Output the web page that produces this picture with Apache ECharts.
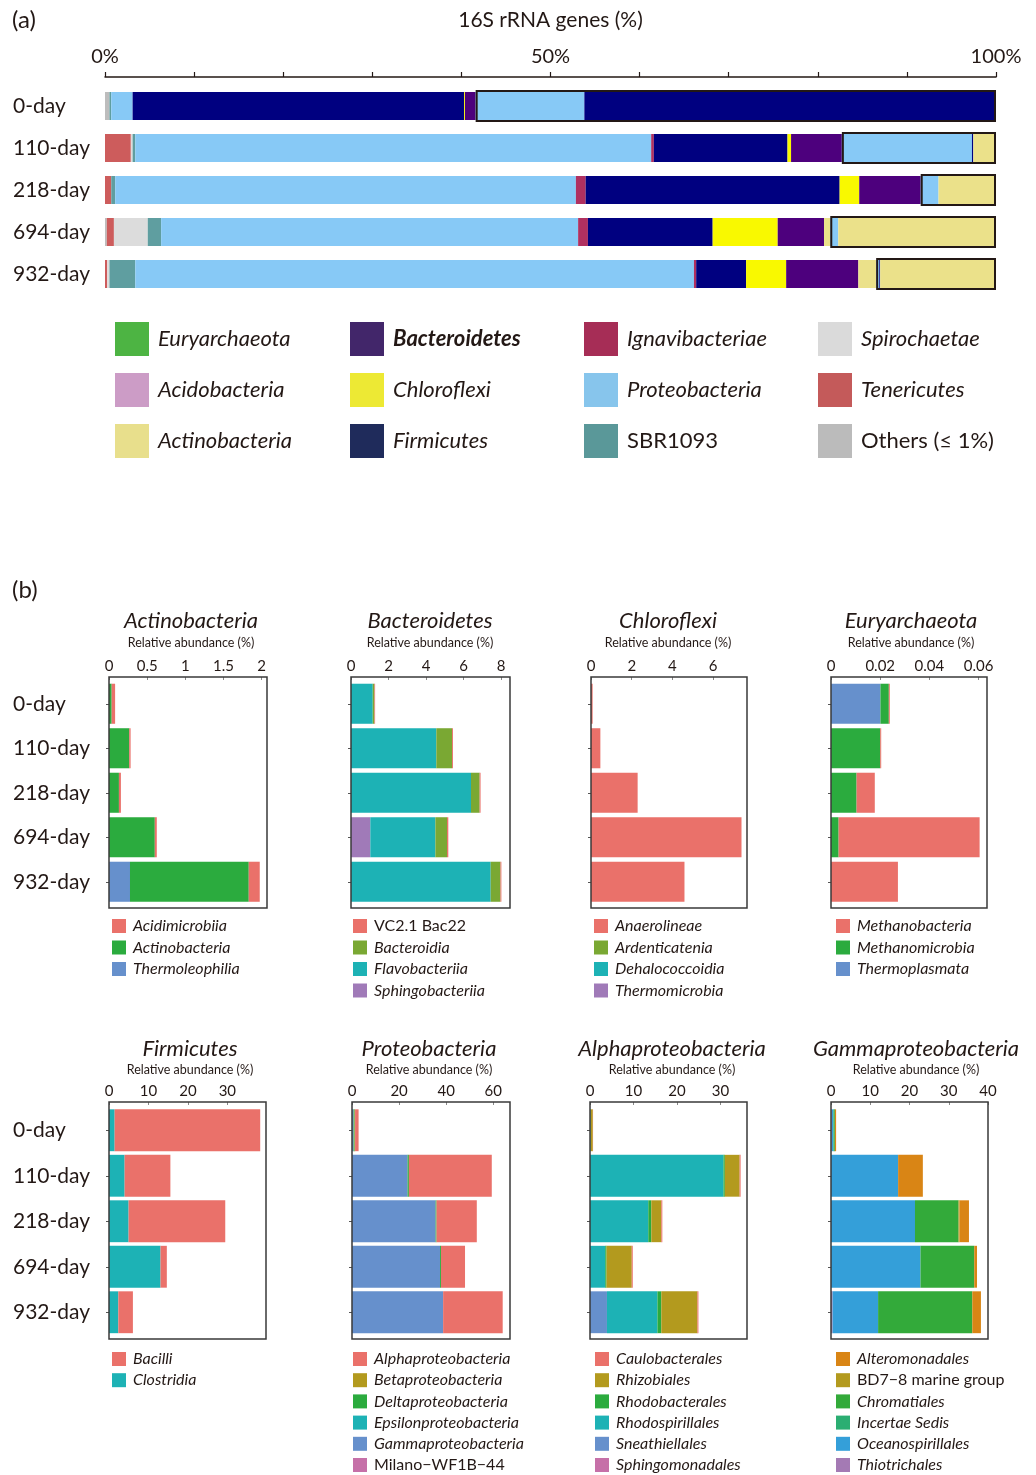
<!DOCTYPE html>
<html>
<head>
<meta charset="utf-8">
<script src="https://cdn.jsdelivr.net/npm/echarts@6/dist/echarts.min.js"></script>
<style>
  html, body { margin: 0; padding: 0; background: #fff; }
  #chart { width: 1036px; height: 1475px; }
</style>
</head>
<body>
<div id="chart"></div>
<script>
// ---------- shared ----------
const FONT = 'Lato, "Noto Sans", sans-serif';
const INK = '#231815';
const days = ['0-day', '110-day', '218-day', '694-day', '932-day'];

// ---------- (a) phylum composition, 16S rRNA genes (%) ----------
const others          = [0.5, 0,    0,    0.2,  0];
const tenericutes     = [0,   2.9,  0.7,  0.8,  0.25];
const spirochaetae    = [0,   0.2,  0,    3.8,  0.25];
const sbr1093         = [0.2, 0.3,  0.45, 1.5,  2.9];
const euryarchaeota   = [0,   0,    0,    0,    0];
const acidobacteria   = [0,   0,    0,    0,    0];
const proteobacteria  = [2.4, 57.9, 51.7, 46.8, 62.7];
const ignavibacteriae = [0,   0.3,  1.1,  1.1,  0.25];
const firmicutes      = [37.2, 15.0, 28.5, 14.0, 5.6];
const chloroflexi     = [0.1, 0.4,  2.2,  7.3,  4.5];
const bacteroidetes   = [1.2, 5.7,  6.9,  5.2,  8.1];
const actinobacteria  = [0,   0,    0,    0.7,  2.0];
// framed tail of each bar
const proteobacteriaTail = [12.2, 14.6, 2.0, 0.9, 0.35];
const firmicutesTail     = [46.2, 0.15, 0,   0,   0.1];
const actinobacteriaTail = [0,    2.55, 6.45, 17.7, 13.0];
const percentTicks = [0, 50, 100];

// ---------- (b) class / order breakdown, relative abundance (%) ----------
const actThermoleophilia = [0, 0, 0, 0, 0.275];
const actActinobacteria  = [0.035, 0.265, 0.13, 0.60, 1.556];
const actAcidimicrobiia  = [0.045, 0.018, 0.026, 0.026, 0.144];
const actTicks = [0, 0.5, 1, 1.5, 2];

const bacSphingobacteriia = [0, 0, 0, 1.03, 0];
const bacFlavobacteriia   = [1.16, 4.55, 6.4, 3.47, 7.45];
const bacBacteroidia      = [0.09, 0.84, 0.46, 0.62, 0.52];
const bacVC21Bac22        = [0.035, 0.05, 0.05, 0.07, 0.05];
const bacTicks = [0, 2, 4, 6, 8];

const chlThermomicrobia   = [0, 0, 0, 0, 0];
const chlDehalococcoidia  = [0, 0, 0, 0, 0];
const chlArdenticatenia   = [0, 0, 0, 0, 0];
const chlAnaerolineae     = [0.08, 0.46, 2.29, 7.39, 4.59];
const chlTicks = [0, 2, 4, 6];

const euryThermoplasmata  = [0.0201, 0, 0, 0, 0];
const euryMethanomicrobia = [0.0034, 0.020, 0.0104, 0.0031, 0];
const euryMethanobacteria = [0.0004, 0.0004, 0.0074, 0.0573, 0.0272];
const euryTicks = [0, 0.02, 0.04, 0.06];

const firClostridia = [1.43, 3.96, 4.97, 13.06, 2.36];
const firBacilli    = [36.9, 11.6, 24.5, 1.6, 3.7];
const firTicks = [0, 10, 20, 30];

const proMilano = [0, 0, 0, 0, 0];
const proGamma  = [0.7, 23.6, 35.5, 37.4, 38.7];
const proEpsilon = [0, 0, 0, 0, 0];
const proDelta  = [0.4, 0.56, 0.4, 0.4, 0];
const proBeta   = [0.2, 0, 0, 0, 0];
const proAlpha  = [1.5, 35.2, 17.1, 10.2, 25.3];
const proTicks = [0, 20, 40, 60];

const alpSphingomonadales = [0, 0, 0, 0, 0];
const alpSneathiellales   = [0, 0, 0, 0, 3.9];
const alpRhodospirillales = [0.15, 30.7, 13.4, 3.5, 11.6];
const alpRhodobacterales  = [0, 0.3, 0.7, 0.3, 0.9];
const alpRhizobiales      = [0.5, 3.4, 2.3, 5.8, 8.3];
const alpCaulobacterales  = [0.05, 0.23, 0.23, 0.23, 0.23];
const alpTicks = [0, 10, 20, 30];

const gamThiotrichales     = [0.2, 0, 0, 0, 0.4];
const gamOceanospirillales = [0.4, 17.1, 21.4, 22.8, 11.6];
const gamIncertaeSedis     = [0.2, 0, 0, 0, 0];
const gamChromatiales      = [0.2, 0, 11.1, 13.7, 24.0];
const gamBD78              = [0, 0, 0.25, 0, 0];
const gamAlteromonadales   = [0.3, 6.3, 2.4, 0.7, 2.2];
const gamTicks = [0, 10, 20, 30, 40];

// ---------- colours ----------
const PA = {
  others: '#bdbdbd', tenericutes: '#cd5c5c', spirochaetae: '#dcdcdc', sbr: '#5f9ea0',
  eury: '#3cb44b', acido: '#cc99c9', proteo: '#87c9f6', ignav: '#b03060',
  firm: '#000080', chloro: '#f9f900', bact: '#4d007d', actino: '#ebe18a'
};
const PA_KEY = {
  'Euryarchaeota': '#4db443', 'Acidobacteria': '#cc9cc6', 'Actinobacteria': '#e8df8c',
  'Bacteroidetes': '#42266a', 'Chloroflexi': '#ede934', 'Firmicutes': '#1f2b5b',
  'Ignavibacteriae': '#a62d56', 'Proteobacteria': '#87c5ec', 'SBR1093': '#5a9899',
  'Spirochaetae': '#dadada', 'Tenericutes': '#c45a5a', 'Others (≤ 1%)': '#bbbbbb'
};
const PB = {
  red: '#ea716a', green: '#2bab3e', blue: '#6690cc', yg: '#7aa833', teal: '#1db2b5',
  purple: '#a07ab8', olive: '#b39a1e', pink: '#c670a8', orange: '#d98515',
  incertae: '#2bae72', ocean: '#349fd9', thio: '#a47ab4', chrom: '#33aa3a'
};

// ---------- option assembly ----------
const grid = [], xAxis = [], yAxis = [], series = [], legend = [], graphic = [];

// panel (a)
grid.push({ left: 105, top: 85, width: 891, height: 210 });
xAxis.push({
  type: 'value', gridIndex: 0, position: 'top', offset: 8, min: 0, max: 100, interval: 10,
  name: '16S rRNA genes (%)', nameLocation: 'middle', nameGap: 46,
  nameTextStyle: { fontFamily: FONT, fontSize: 21, color: INK },
  axisLine: { show: true, lineStyle: { color: INK, width: 1.5 } },
  axisTick: { show: true, length: 5, lineStyle: { color: INK, width: 1.2 } },
  axisLabel: { customValues: percentTicks, formatter: '{value}%', margin: 10,
               fontFamily: FONT, fontSize: 20, color: INK },
  splitLine: { show: false }
});
const catAxisA = {
  type: 'category', gridIndex: 0, data: days, inverse: true,
  axisLine: { show: false }, axisTick: { show: false }
};
yAxis.push(Object.assign({}, catAxisA, {
  axisLabel: { align: 'left', margin: 92, fontFamily: FONT, fontSize: 21, color: INK }
}));
yAxis.push(Object.assign({}, catAxisA, { axisLabel: { show: false } }));

const mainParts = [
  ['Others (≤ 1%)', others, PA.others], ['Tenericutes', tenericutes, PA.tenericutes],
  ['Spirochaetae', spirochaetae, PA.spirochaetae], ['SBR1093', sbr1093, PA.sbr],
  ['Euryarchaeota', euryarchaeota, PA.eury], ['Acidobacteria', acidobacteria, PA.acido],
  ['Proteobacteria', proteobacteria, PA.proteo], ['Ignavibacteriae', ignavibacteriae, PA.ignav],
  ['Firmicutes', firmicutes, PA.firm], ['Chloroflexi', chloroflexi, PA.chloro],
  ['Bacteroidetes', bacteroidetes, PA.bact], ['Actinobacteria', actinobacteria, PA.actino]
];
const tailParts = [
  ['Proteobacteria', proteobacteriaTail, PA.proteo],
  ['Firmicutes', firmicutesTail, PA.firm],
  ['Actinobacteria', actinobacteriaTail, PA.actino]
];
mainParts.concat(tailParts).forEach(([name, data, color]) => {
  series.push({
    type: 'bar', name, data, stack: 'phyla', xAxisIndex: 0, yAxisIndex: 0,
    barWidth: 28, itemStyle: { color }, silent: true
  });
});
// frame around the tail segments
const tailStart = days.map((_, i) => mainParts.reduce((s, p) => s + p[1][i], 0));
const tailWidth = days.map((_, i) => tailParts.reduce((s, p) => s + p[1][i], 0));
series.push({ type: 'bar', name: 'tail-offset', data: tailStart, stack: 'frame', xAxisIndex: 0, yAxisIndex: 1,
  barWidth: 32, itemStyle: { color: 'rgba(0,0,0,0)' }, silent: true });
series.push({ type: 'bar', name: 'tail-frame', data: tailWidth, stack: 'frame', xAxisIndex: 0, yAxisIndex: 1,
  barWidth: 32, itemStyle: { color: 'rgba(0,0,0,0)', borderColor: INK, borderWidth: 2 }, silent: true });

const keyColumns = [
  [115, ['Euryarchaeota', 'Acidobacteria', 'Actinobacteria']],
  [350, ['Bacteroidetes', 'Chloroflexi', 'Firmicutes']],
  [584, ['Ignavibacteriae', 'Proteobacteria', 'SBR1093']],
  [818, ['Spirochaetae', 'Tenericutes', 'Others (≤ 1%)']]
];
keyColumns.forEach(([left, names]) => {
  legend.push({
    left, top: 322, height: 200, orient: 'vertical', padding: 0, selectedMode: false,
    itemWidth: 34, itemHeight: 34, itemGap: 17, icon: 'rect',
    textStyle: { fontFamily: FONT, fontSize: 22, color: INK, fontStyle: 'italic', padding: [0, 0, 0, 4] },
    data: names.map(n => ({
      name: n, icon: 'rect', itemStyle: { color: PA_KEY[n], borderWidth: 0 },
      textStyle: n === 'Bacteroidetes' ? { fontWeight: 'bold' }
               : (n === 'SBR1093' || n === 'Others (≤ 1%)') ? { fontStyle: 'normal' } : {}
    }))
  });
});

// panel (b)
const bPanels = [
  { title: 'Actinobacteria', tx: 191, row: 0, box: [109, 158], max: 2.07, ticks: actTicks, labels: true, key: [112, 918],
    parts: [['Thermoleophilia', actThermoleophilia, PB.blue], ['Actinobacteria', actActinobacteria, PB.green],
            ['Acidimicrobiia', actAcidimicrobiia, PB.red]],
    order: ['Acidimicrobiia', 'Actinobacteria', 'Thermoleophilia'] },
  { title: 'Bacteroidetes', tx: 430, row: 0, box: [351, 159], max: 8.48, ticks: bacTicks, key: [353, 918],
    parts: [['Sphingobacteriia', bacSphingobacteriia, PB.purple], ['Flavobacteriia', bacFlavobacteriia, PB.teal],
            ['Bacteroidia', bacBacteroidia, PB.yg], ['VC2.1 Bac22', bacVC21Bac22, PB.red]],
    order: ['VC2.1 Bac22', 'Bacteroidia', 'Flavobacteriia', 'Sphingobacteriia'], plain: ['VC2.1 Bac22'] },
  { title: 'Chloroflexi', tx: 668, row: 0, box: [591, 156], max: 7.66, ticks: chlTicks, key: [594, 918],
    parts: [['Thermomicrobia', chlThermomicrobia, PB.purple], ['Dehalococcoidia', chlDehalococcoidia, PB.teal],
            ['Ardenticatenia', chlArdenticatenia, PB.yg], ['Anaerolineae', chlAnaerolineae, PB.red]],
    order: ['Anaerolineae', 'Ardenticatenia', 'Dehalococcoidia', 'Thermomicrobia'] },
  { title: 'Euryarchaeota', tx: 911, row: 0, box: [831, 156], max: 0.0634, ticks: euryTicks, key: [836, 918],
    parts: [['Thermoplasmata', euryThermoplasmata, PB.blue], ['Methanomicrobia', euryMethanomicrobia, PB.green],
            ['Methanobacteria', euryMethanobacteria, PB.red]],
    order: ['Methanobacteria', 'Methanomicrobia', 'Thermoplasmata'] },
  { title: 'Firmicutes', tx: 190, row: 1, box: [109, 157], max: 39.8, ticks: firTicks, labels: true, key: [112, 1351],
    parts: [['Clostridia', firClostridia, PB.teal], ['Bacilli', firBacilli, PB.red]],
    order: ['Bacilli', 'Clostridia'] },
  { title: 'Proteobacteria', tx: 429, row: 1, box: [352, 158], max: 67.1, ticks: proTicks, key: [353, 1351],
    parts: [['Milano−WF1B−44', proMilano, PB.pink], ['Gammaproteobacteria', proGamma, PB.blue],
            ['Epsilonproteobacteria', proEpsilon, PB.teal], ['Deltaproteobacteria', proDelta, PB.green],
            ['Betaproteobacteria', proBeta, PB.olive], ['Alphaproteobacteria', proAlpha, PB.red]],
    order: ['Alphaproteobacteria', 'Betaproteobacteria', 'Deltaproteobacteria', 'Epsilonproteobacteria',
            'Gammaproteobacteria', 'Milano−WF1B−44'], plain: ['Milano−WF1B−44'] },
  { title: 'Alphaproteobacteria', tx: 672, row: 1, box: [590, 157], max: 36.1, ticks: alpTicks, key: [595, 1351],
    parts: [['Sphingomonadales', alpSphingomonadales, PB.pink], ['Sneathiellales', alpSneathiellales, PB.blue],
            ['Rhodospirillales', alpRhodospirillales, PB.teal], ['Rhodobacterales', alpRhodobacterales, PB.green],
            ['Rhizobiales', alpRhizobiales, PB.olive], ['Caulobacterales', alpCaulobacterales, PB.red]],
    order: ['Caulobacterales', 'Rhizobiales', 'Rhodobacterales', 'Rhodospirillales', 'Sneathiellales', 'Sphingomonadales'] },
  { title: 'Gammaproteobacteria', tx: 916, row: 1, box: [831, 157], max: 40, ticks: gamTicks, key: [836, 1351],
    parts: [['Thiotrichales', gamThiotrichales, PB.thio], ['Oceanospirillales', gamOceanospirillales, PB.ocean],
            ['Incertae Sedis', gamIncertaeSedis, PB.incertae], ['Chromatiales', gamChromatiales, PB.chrom],
            ['BD7−8 marine group', gamBD78, PB.olive], ['Alteromonadales', gamAlteromonadales, PB.orange]],
    order: ['Alteromonadales', 'BD7−8 marine group', 'Chromatiales', 'Incertae Sedis', 'Oceanospirillales', 'Thiotrichales'],
    plain: ['BD7−8 marine group'] }
];
// frame = outer box; plot = band area inside it
const rows = [
  { frameTop: 677, frameBottom: 908, plotTop: 681.5, plotHeight: 222.5, gap: '10%', titleY: 621, subY: 643,
    margin: 3, keyGap: 5.5 },
  { frameTop: 1102, frameBottom: 1339, plotTop: 1107.5, plotHeight: 227.5, gap: '8%', titleY: 1049, subY: 1070,
    margin: 3, keyGap: 5.2 }
];

bPanels.forEach((p, k) => {
  const gi = k + 1;
  const r = rows[p.row];
  grid.push({ left: p.box[0], top: r.plotTop, width: p.box[1], height: r.plotHeight });
  graphic.push({ type: 'rect', z: 5, silent: true,
    shape: { x: p.box[0], y: r.frameTop, width: p.box[1], height: r.frameBottom - r.frameTop },
    style: { fill: 'none', stroke: '#3a3a3a', lineWidth: 1.5 } });
  xAxis.push({
    type: 'value', gridIndex: gi, position: 'top', offset: r.plotTop - r.frameTop, min: 0, max: p.max,
    axisLine: { show: false },
    axisTick: { show: true, inside: true, length: 3, customValues: p.ticks, lineStyle: { color: '#888' } },
    axisLabel: { customValues: p.ticks, margin: r.margin, fontFamily: FONT, fontSize: 15, color: INK },
    splitLine: { show: false }
  });
  yAxis.push({
    type: 'category', gridIndex: gi, data: days, inverse: true,
    axisLine: { show: false },
    axisTick: { show: true, alignWithLabel: true, length: 3, lineStyle: { color: '#555' } },
    axisLabel: p.labels
      ? { show: true, align: 'left', margin: p.box[0] - 13, fontFamily: FONT, fontSize: 21, color: INK }
      : { show: false }
  });
  const colorOf = {};
  p.parts.forEach(([name, data, color]) => {
    colorOf[name] = color;
    series.push({
      type: 'bar', name, data, stack: 'b' + k, xAxisIndex: gi + 0, yAxisIndex: gi + 1,
      barCategoryGap: r.gap, itemStyle: { color }, silent: true
    });
  });
  const plain = p.plain || [];
  legend.push({
    left: p.key[0], top: p.key[1], height: 200, orient: 'vertical', padding: 0, selectedMode: false,
    itemWidth: 14, itemHeight: 14, itemGap: r.keyGap, icon: 'rect',
    textStyle: { fontFamily: FONT, fontSize: 16, lineHeight: 14, color: INK, fontStyle: 'italic', padding: [0, 0, 0, 2] },
    data: p.order.map(n => ({
      name: n, icon: 'rect', itemStyle: { color: colorOf[n], borderWidth: 0 },
      textStyle: plain.includes(n) ? { fontStyle: 'normal' } : {}
    }))
  });
  graphic.push({ type: 'text', x: p.tx, y: r.titleY,
    style: { text: p.title, align: 'center', verticalAlign: 'middle', fill: INK,
             font: 'italic 22px ' + FONT } });
  graphic.push({ type: 'text', x: p.tx, y: r.subY,
    style: { text: 'Relative abundance (%)', align: 'center', verticalAlign: 'middle', fill: INK,
             font: '12.5px ' + FONT } });
});

graphic.push({ type: 'text', x: 12, y: 20, style: { text: '(a)', verticalAlign: 'middle', fill: INK, font: '24px ' + FONT } });
graphic.push({ type: 'text', x: 12, y: 590, style: { text: '(b)', verticalAlign: 'middle', fill: INK, font: '24px ' + FONT } });

const chart = echarts.init(document.getElementById('chart'), null, { renderer: 'canvas' });
chart.setOption({
  backgroundColor: '#fff',
  animation: false,
  textStyle: { fontFamily: FONT },
  grid, xAxis, yAxis, series, legend, graphic
});
</script>
</body>
</html>
